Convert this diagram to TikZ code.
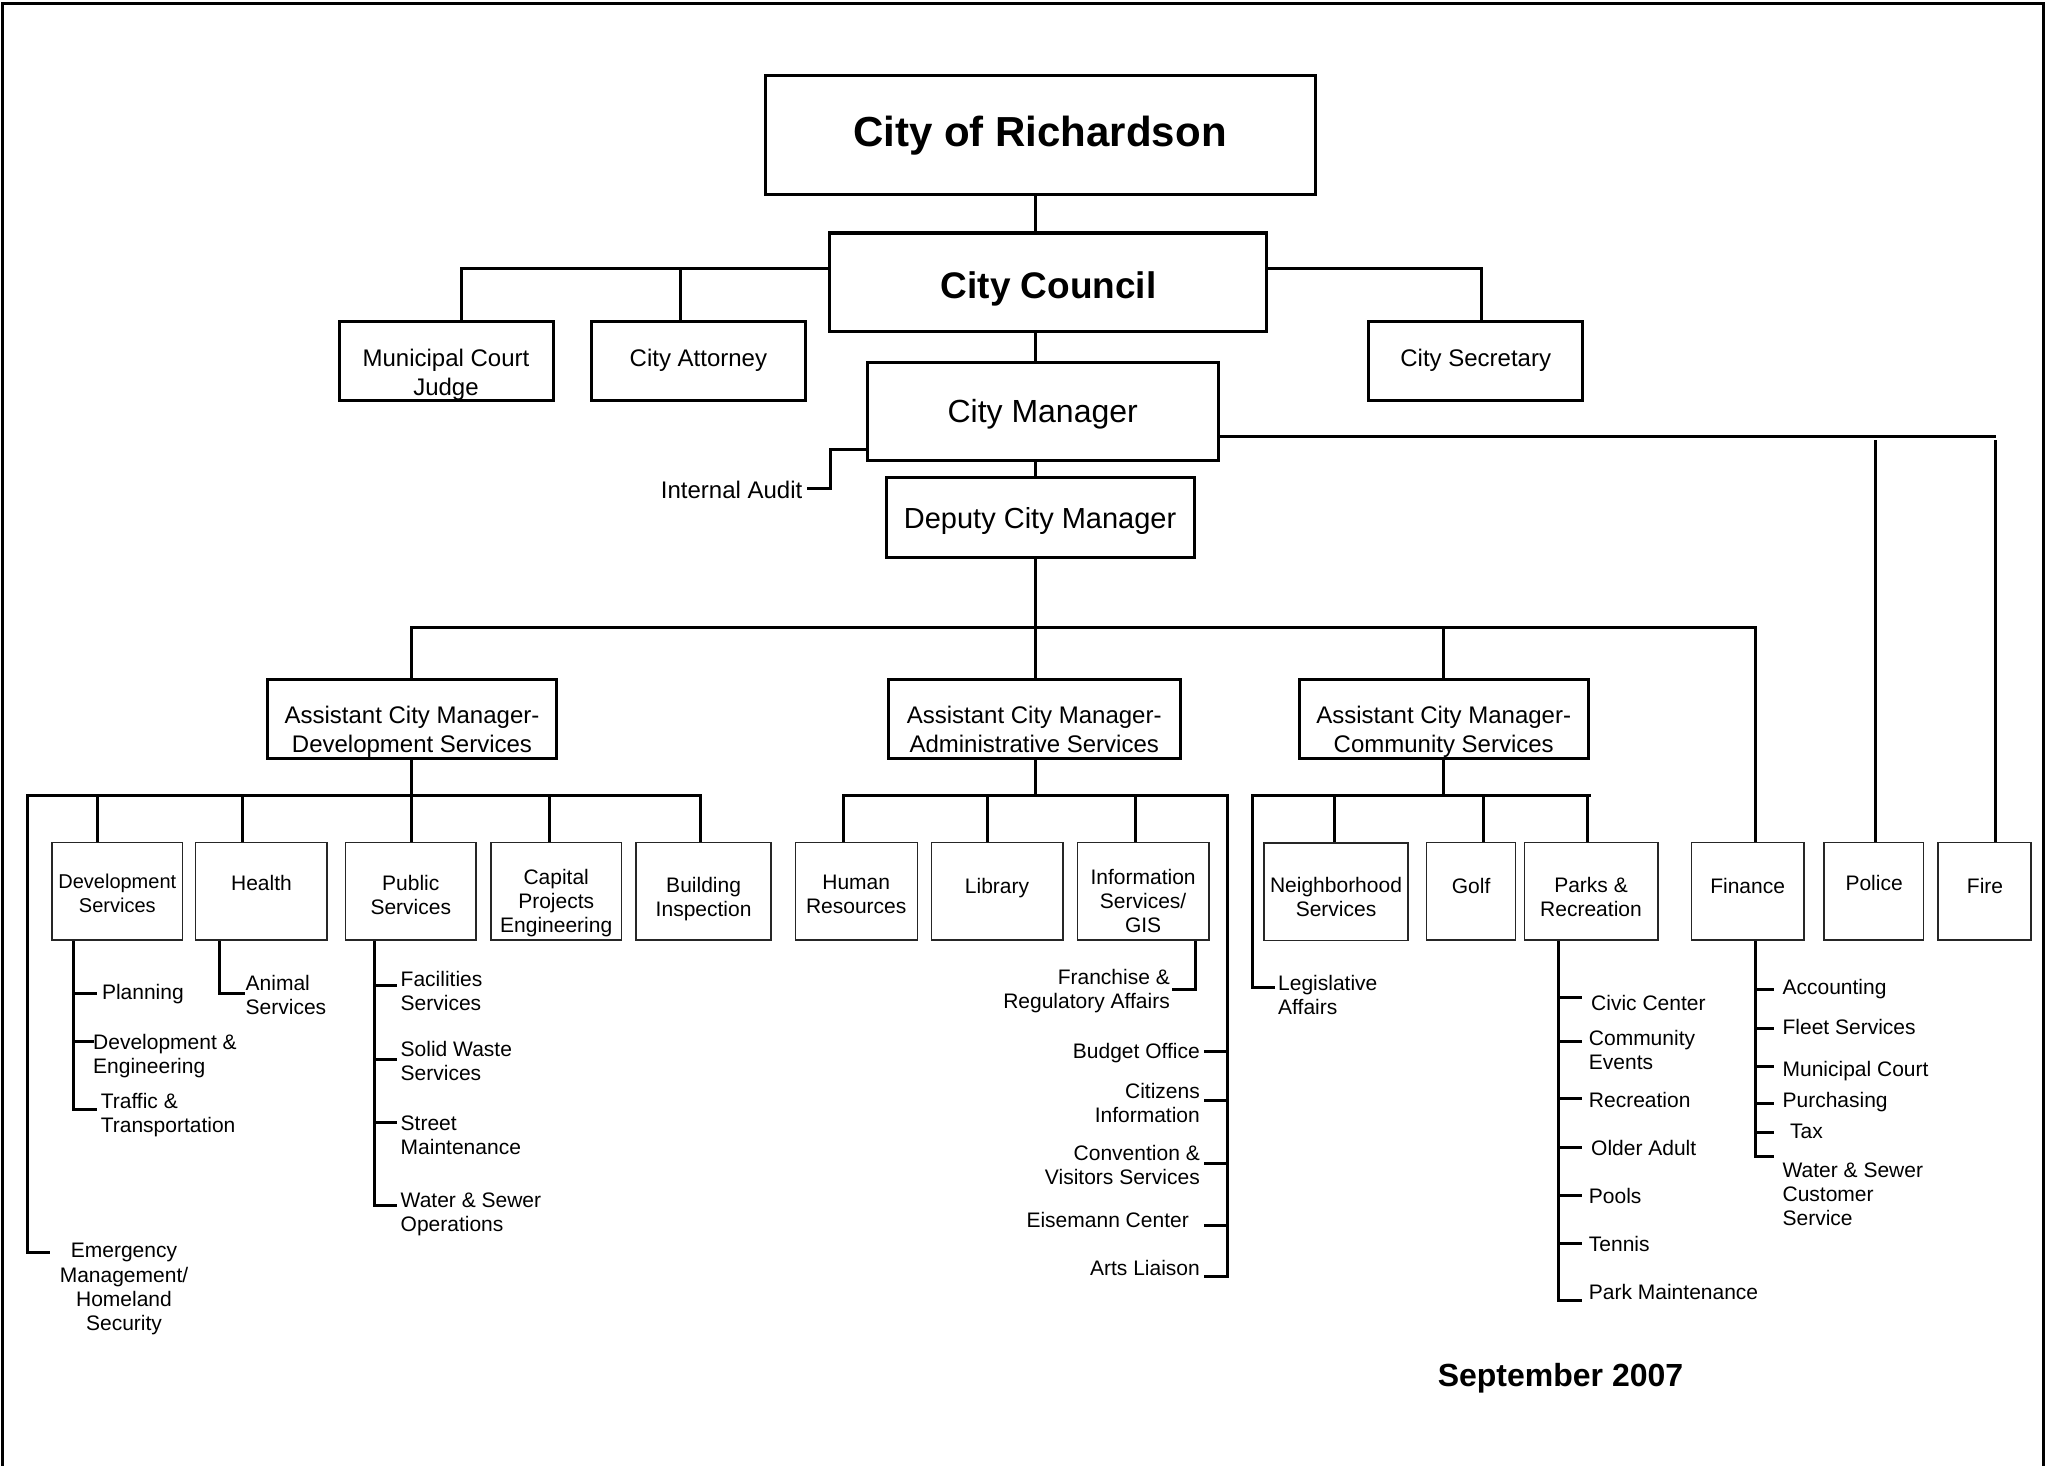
\documentclass[tikz,border=0pt]{standalone}
\usepackage{fontspec}
\setmainfont{Liberation Sans}
\newcommand{\fsz}[2]{\fontsize{#1}{#2}\selectfont}
\begin{document}
\begin{tikzpicture}[x=1pt,y=-1pt,
  bigbox/.style={draw, line width=3pt, inner sep=0pt},
  subbox/.style={draw=black!85, line width=1.6pt, inner sep=0pt, minimum height=97.5},
  conn/.style={line width=3pt},
  frm/.style={line width=3pt},
  t24/.style={inner sep=0pt, font=\fsz{24}{29}, align=center},
  t21/.style={inner sep=0pt, font=\fsz{21}{24}, align=center},
  lab/.style={inner sep=0pt, font=\fsz{21}{24}, align=left, anchor=west},
  labr/.style={inner sep=0pt, font=\fsz{21}{24}, align=right, anchor=east},
]
\useasboundingbox (0,0) rectangle (2045,1466);
\draw[frm] (2,1466) -- (2,4) -- (2043,4) -- (2043,1466);

% ---------- top level boxes ----------
\node[bigbox, minimum width=549.6, minimum height=118.7] (rich) at (1040.4,135) {};
\node[inner sep=0pt, font=\bfseries\fsz{42}{48}] (richT) at (1040,135.9) {City of Richardson};
\node[bigbox, minimum width=437.2, minimum height=98.4] (council) at (1048.1,282.2) {};
\node[inner sep=0pt, font=\bfseries\fsz{37}{42}] (councilT) at (1048.6,288.7) {City Council};
\node[bigbox, minimum width=350.7, minimum height=98.5] (cm) at (1042.65,411.25) {};
\node[inner sep=0pt, font=\fsz{32}{36}] (cmT) at (1042.7,414) {City Manager};
\node[bigbox, minimum width=307.2, minimum height=79.6] (dep) at (1040.4,517.2) {};
\node[inner sep=0pt, font=\fsz{29}{33}] (depT) at (1040.1,520.7) {Deputy City Manager};

\node[t24] (judgeT) at (446,374.4) {Municipal Court\\Judge};
\node[bigbox, fill=none, minimum width=214, minimum height=79] (judge) at (446,360.5) {};
\fill[white] ([yshift=-1.5pt]judge.south west) rectangle ([yshift=-8pt]judge.south east);
\node[bigbox, minimum width=214, minimum height=79] (att) at (698,360.5) {};
\node[t24] (attT) at (698.4,359.8) {City Attorney};
\node[bigbox, minimum width=214.5, minimum height=79] (sec) at (1475.25,360.5) {};
\node[t24] (secT) at (1475.7,359.8) {City Secretary};

\node[inner sep=0pt, font=\fsz{24}{29}, anchor=east] (auditT) at (802.5,490.3) {Internal Audit};

% ---------- assistant city managers ----------
\node[bigbox, minimum width=288.6, minimum height=79] (acmd) at (411.7,719) {};
\node[t24] (acmdT) at (412,731.4) {Assistant City Manager-\\Development Services};
\node[bigbox, minimum width=292.2, minimum height=79] (acma) at (1034.4,719) {};
\node[t24] (acmaT) at (1034.2,729) {Assistant City Manager-\\Administrative Services};
\node[bigbox, minimum width=289.5, minimum height=79] (acmc) at (1443.75,719) {};
\node[t24] (acmcT) at (1443.7,731.4) {Assistant City Manager-\\Community Services};

% ---------- departments ----------
\node[subbox, minimum width=130.5] (devs) at (117.25,891.25) {};
\node[t21, font=\fsz{20}{23.5}] (devsT) at (117.3,893.4) {Development\\Services};
\node[subbox, minimum width=131.5] (health) at (261.25,891.25) {};
\node[t21] (healthT) at (261.5,882.9) {Health};
\node[subbox, minimum width=130.7] (pubs) at (410.65,891.25) {};
\node[t21] (pubsT) at (410.8,894.7) {Public\\Services};
\node[subbox, minimum width=130.5] (cap) at (556.25,891.25) {};
\node[t21] (capT) at (556.2,902.6) {Capital\\Projects\\Engineering};
\node[subbox, minimum width=134.8] (bldg) at (703.6,891.25) {};
\node[t21] (bldgT) at (703.6,899.4) {Building\\Inspection};

\node[subbox, minimum width=122] (hr) at (856.4,891.25) {};
\node[t21] (hrT) at (856.2,894.7) {Human\\Resources};
\node[subbox, minimum width=131.5] (lib) at (997.15,891.25) {};
\node[t21] (libT) at (997,887.6) {Library};
\node[subbox, minimum width=131.7] (info) at (1143.15,891.25) {};
\node[t21] (infoT) at (1143.1,900.5) {Information\\Services/\\GIS};

\node[subbox, minimum width=143.9] (neigh) at (1335.75,891.75) {};
\node[t21] (neighT) at (1336,897.3) {Neighborhood\\Services};
\node[subbox, minimum width=89] (golf) at (1471.1,891.25) {};
\node[t21] (golfT) at (1471.1,885.5) {Golf};
\node[subbox, minimum width=133.3] (parks) at (1591.05,891.25) {};
\node[t21] (parksT) at (1591,897.3) {Parks \&\\Recreation};
\node[subbox, minimum width=112.1] (fin) at (1747.65,891.25) {};
\node[t21] (finT) at (1747.6,885.5) {Finance};
\node[subbox, minimum width=99.5] (police) at (1873.75,891.25) {};
\node[t21] (policeT) at (1874.1,883) {Police};
\node[subbox, minimum width=92.8] (fire) at (1984.4,891.25) {};
\node[t21] (fireT) at (1985,885.5) {Fire};

% ---------- sub labels ----------
\node[lab] (planT) at (101.8,994.3) {Planning};
\node[lab] (devEngT) at (93,1055.9) {Development \&\\Engineering};
\node[lab] (trafT) at (100.6,1114.6) {Traffic \&\\Transportation};
\node[t21, font=\fsz{21}{24.4}] (emT) at (124,1289.3) {Emergency\\Management/\\Homeland\\Security};
\node[lab] (animalT) at (245.5,995.2) {Animal\\Services};
\node[lab] (facT) at (400.5,991.4) {Facilities\\Services};
\node[lab] (solidT) at (400.5,1061.2) {Solid Waste\\Services};
\node[lab] (streetT) at (400.5,1134.8) {Street\\Maintenance};
\node[lab] (waterT) at (400.5,1214.5) {Water \& Sewer\\Operations};

\node[labr] (franT) at (1170,991.5) {Franchise \&\\Regulatory Affairs};
\node[labr] (budgetT) at (1200,1053.5) {Budget Office};
\node[labr] (citT) at (1200,1103) {Citizens\\Information};
\node[labr] (convT) at (1200,1165) {Convention \&\\Visitors Services};
\node[labr] (eisT) at (1189,1219.6) {Eisemann Center};
\node[labr] (artsT) at (1200,1267.8) {Arts Liaison};

\node[lab] (legT) at (1278,995.3) {Legislative\\Affairs};
\node[lab] (civicT) at (1591,1003.2) {Civic Center};
\node[lab] (commT) at (1588.7,1049.6) {Community\\Events};
\node[lab] (recT) at (1588.7,1099.7) {Recreation};
\node[lab] (olderT) at (1591,1147.7) {Older Adult};
\node[lab] (poolsT) at (1588.7,1196) {Pools};
\node[lab] (tennisT) at (1588.7,1244) {Tennis};
\node[lab] (parkmT) at (1588.7,1291.5) {Park Maintenance};

\node[lab] (accT) at (1782.4,989.5) {Accounting};
\node[lab] (fleetT) at (1782.4,1027) {Fleet Services};
\node[lab] (mcourtT) at (1782.4,1071.1) {Municipal Court};
\node[lab] (purchT) at (1782.4,1101.8) {Purchasing};
\node[lab] (taxT) at (1790,1131.4) {Tax};
\node[lab] (wscsT) at (1782.4,1194) {Water \& Sewer\\Customer\\Service};

\node[inner sep=0pt, font=\bfseries\fsz{32}{36}] (sepT) at (1560.5,1378.5) {September 2007};

% ---------- connectors: top ----------
\coordinate (spine) at (1035.5,0);
\draw[conn] (rich.south -| spine) -- (council.north -| spine);
\draw[conn] (council.south -| spine) -- (cm.north -| spine);
\draw[conn] (cm.south -| spine) -- (dep.north -| spine);

\coordinate (cy) at (0,268.6);
\coordinate (jTap) at (461.8,268.6);
\coordinate (aTap) at (680.6,268.6);
\coordinate (sTap) at (1481.8,268.6);
\draw[conn] (council.west |- cy) -- (jTap) -- (jTap |- judge.north);
\draw[conn] (aTap) -- (aTap |- att.north);
\draw[conn] (council.east |- cy) -- (sTap) -- (sTap |- sec.north);

\coordinate (iaC) at (830,449);
\draw[conn] (cm.west |- iaC) -- (iaC) -- (830,488.7) -- ([xshift=4.2pt,yshift=1.6pt]auditT.east);

\coordinate (mR) at (1995.5,436.5);
\draw[conn] (cm.east |- mR) -- (mR);
\coordinate (pTop) at (1875.3,440);
\coordinate (fTop) at (1995.5,440);
\draw[conn] (pTop) -- (pTop |- police.north);
\draw[conn] (fTop) -- (fTop |- fire.north);

% ---------- deputy bus ----------
\coordinate (bus1) at (0,627.3);
\coordinate (finTap) at (1755.6,627.3);
\draw[conn] (dep.south -| spine) -- (bus1 -| spine);
\draw[conn] (acmd.north) -- (acmd.north |- bus1) -- (finTap) -- (finTap |- fin.north);
\draw[conn] (bus1 -| spine) -- (acma.north -| spine);
\draw[conn] (acmc.north |- bus1) -- (acmc.north);

% ---------- development bus ----------
\coordinate (bus2) at (0,795.6);
\coordinate (dL) at (27.7,795.6);
\coordinate (dR) at (700.3,795.6);
\draw[conn] (acmd.south) -- (acmd.south |- bus2);
\draw[conn] (dR |- bldg.north) -- (dR) -- (dL) -- ++(0,457.1) -- ++(22.7,0);
\draw[conn] ([xshift=-19.75pt]devs.north) -- ([xshift=-19.75pt]devs.north |- bus2);
\draw[conn] ([xshift=-18.45pt]health.north) -- ([xshift=-18.45pt]health.north |- bus2);
\draw[conn] ([xshift=1pt]pubs.north) -- ([xshift=1pt]pubs.north |- bus2);
\draw[conn] ([xshift=-7.25pt]cap.north) -- ([xshift=-7.25pt]cap.north |- bus2);

\coordinate (dsv) at ([xshift=-43.75pt]devs.south);
\draw[conn] (dsv) -- ++(0,168.3) -- ++(23.8,0);
\draw[conn] ([yshift=-52.5pt]dsv) -- ++(23.8,0);
\draw[conn] ([yshift=-100.7pt]dsv) -- ++(20.3,0);
\draw[conn] ([xshift=-41.65pt]health.south) -- ++(0,52.7) -- ++(25,0);
\coordinate (psv) at ([xshift=-36.45pt]pubs.south);
\draw[conn] (psv) -- ++(0,264.5) -- ++(23.1,0);
\draw[conn] ([yshift=-45pt]psv) -- ++(23.1,0);
\draw[conn] ([yshift=-118.3pt]psv) -- ++(23.1,0);
\draw[conn] ([yshift=-181.7pt]psv) -- ++(23.1,0);

% ---------- administrative bus ----------
\coordinate (aL) at (843.9,795.6);
\coordinate (aR) at (1227.4,795.6);
\draw[conn] (acma.south -| spine) -- (bus2 -| spine);
\draw[conn] (aL |- hr.north) -- (aL) -- (aR) -- ++(0,480.7) -- ++(-23,0);
\draw[conn] ([xshift=-9.75pt]lib.north) -- ([xshift=-9.75pt]lib.north |- bus2);
\draw[conn] ([xshift=-7.65pt]info.north) -- ([xshift=-7.65pt]info.north |- bus2);
\draw[conn] ([xshift=52.45pt]info.south) -- ++(0,48.4) -- ++(-23.7,0);
\draw[conn] ([yshift=-256.2pt]aR) -- ++(-23,0);
\draw[conn] ([yshift=-304.4pt]aR) -- ++(-23,0);
\draw[conn] ([yshift=-368.2pt]aR) -- ++(-23,0);
\draw[conn] ([yshift=-429.4pt]aR) -- ++(-23,0);

% ---------- community bus ----------
\coordinate (cL) at (1252.5,795.6);
\coordinate (cR) at (1590.8,795.6);
\draw[conn] (acmc.south) -- (acmc.south |- bus2);
\draw[conn] (cR) -- (cL) -- ++(0,191.9) -- ++(22.9,0);
\draw[conn] ([xshift=-3.35pt]parks.north) -- ([xshift=-3.35pt]parks.north |- bus2);
\draw[conn] ([xshift=-1pt]neigh.north) -- ([xshift=-1pt]neigh.north |- bus2);
\draw[conn] ([xshift=12.2pt]golf.north) -- ([xshift=12.2pt]golf.north |- bus2);

\coordinate (prv) at ([xshift=-32.75pt]parks.south);
\draw[conn] (prv) -- ++(0,359.5) -- ++(23.9,0);
\foreach \d in {56.7,100.7,158,206.6,255,302.8}
  \draw[conn] ([yshift=-\d pt]prv) -- ++(23.9,0);

\coordinate (fnv) at ([xshift=7.95pt]fin.south);
\draw[conn] (fnv) -- ++(0,215.8) -- ++(18.7,0);
\foreach \d in {48.4,87.2,125.2,162.7,192.1}
  \draw[conn] ([yshift=-\d pt]fnv) -- ++(18.7,0);
\end{tikzpicture}
\end{document}
